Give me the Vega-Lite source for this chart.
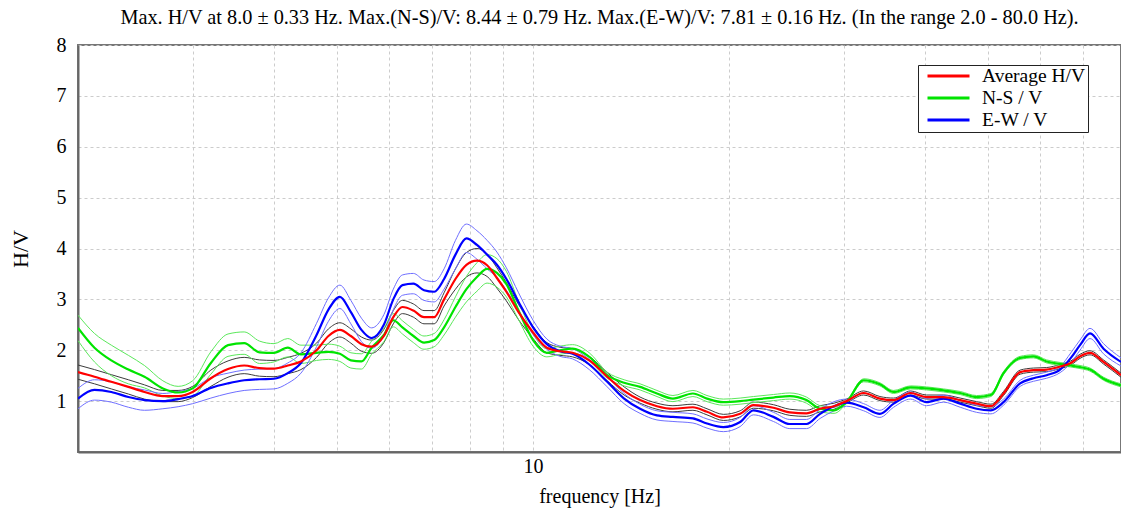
{
 "$schema": "https://vega.github.io/schema/vega-lite/v6.json",
 "width": 1043, "height": 407,
 "autosize": {"type": "none"},
 "padding": {"left": 78, "top": 45, "right": 0, "bottom": 58},
 "background": "white",
 "config": {"view": {"stroke": "#777", "strokeWidth": 2}, "font": "Liberation Serif"},
 "title": {"text": "Max. H/V at 8.0 ± 0.33 Hz. Max.(N-S)/V: 8.44 ± 0.79 Hz. Max.(E-W)/V: 7.81 ± 0.16 Hz. (In the range 2.0 - 80.0 Hz).", "font": "Liberation Serif", "fontSize": 20.3, "fontWeight": "normal", "color": "black", "anchor": "middle", "offset": 7},
 "data": {"values": [
  {"f":2.0,"Average H/V":1.57,"N-S / V":2.44,"E-W / V":1.05,"aH":1.71,"aL":1.43,"nH":2.69,"nL":2.19,"eH":1.25,"eL":0.85},
  {"f":2.12,"Average H/V":1.48,"N-S / V":2.05,"E-W / V":1.22,"aH":1.62,"aL":1.34,"nH":2.33,"nL":1.77,"eH":1.42,"eL":1.02},
  {"f":2.25,"Average H/V":1.38,"N-S / V":1.80,"E-W / V":1.18,"aH":1.52,"aL":1.24,"nH":2.10,"nL":1.50,"eH":1.38,"eL":0.98},
  {"f":2.39,"Average H/V":1.28,"N-S / V":1.62,"E-W / V":1.08,"aH":1.42,"aL":1.14,"nH":1.90,"nL":1.34,"eH":1.28,"eL":0.88},
  {"f":2.53,"Average H/V":1.18,"N-S / V":1.48,"E-W / V":1.02,"aH":1.32,"aL":1.04,"nH":1.70,"nL":1.26,"eH":1.22,"eL":0.82},
  {"f":2.7,"Average H/V":1.10,"N-S / V":1.25,"E-W / V":1.00,"aH":1.21,"aL":0.99,"nH":1.40,"nL":1.10,"eH":1.15,"eL":0.85},
  {"f":2.85,"Average H/V":1.10,"N-S / V":1.17,"E-W / V":1.04,"aH":1.21,"aL":0.99,"nH":1.29,"nL":1.05,"eH":1.19,"eL":0.89},
  {"f":3.0,"Average H/V":1.18,"N-S / V":1.25,"E-W / V":1.10,"aH":1.29,"aL":1.07,"nH":1.40,"nL":1.10,"eH":1.25,"eL":0.95},
  {"f":3.2,"Average H/V":1.45,"N-S / V":1.75,"E-W / V":1.26,"aH":1.61,"aL":1.29,"nH":1.97,"nL":1.53,"eH":1.46,"eL":1.06},
  {"f":3.4,"Average H/V":1.63,"N-S / V":2.10,"E-W / V":1.35,"aH":1.79,"aL":1.47,"nH":2.32,"nL":1.88,"eH":1.55,"eL":1.15},
  {"f":3.6,"Average H/V":1.70,"N-S / V":2.14,"E-W / V":1.41,"aH":1.86,"aL":1.54,"nH":2.36,"nL":1.92,"eH":1.61,"eL":1.21},
  {"f":3.8,"Average H/V":1.65,"N-S / V":1.96,"E-W / V":1.43,"aH":1.81,"aL":1.49,"nH":2.18,"nL":1.74,"eH":1.63,"eL":1.23},
  {"f":4.0,"Average H/V":1.64,"N-S / V":1.95,"E-W / V":1.44,"aH":1.80,"aL":1.48,"nH":2.13,"nL":1.77,"eH":1.64,"eL":1.24},
  {"f":4.2,"Average H/V":1.70,"N-S / V":2.05,"E-W / V":1.55,"aH":1.86,"aL":1.54,"nH":2.23,"nL":1.87,"eH":1.75,"eL":1.35},
  {"f":4.4,"Average H/V":1.78,"N-S / V":1.92,"E-W / V":1.75,"aH":1.94,"aL":1.62,"nH":2.10,"nL":1.74,"eH":1.95,"eL":1.55},
  {"f":4.65,"Average H/V":2.00,"N-S / V":1.95,"E-W / V":2.30,"aH":2.14,"aL":1.86,"nH":2.10,"nL":1.80,"eH":2.53,"eL":2.07},
  {"f":4.85,"Average H/V":2.28,"N-S / V":1.97,"E-W / V":2.80,"aH":2.42,"aL":2.14,"nH":2.12,"nL":1.82,"eH":3.03,"eL":2.57},
  {"f":5.05,"Average H/V":2.40,"N-S / V":1.93,"E-W / V":3.05,"aH":2.54,"aL":2.26,"nH":2.08,"nL":1.78,"eH":3.28,"eL":2.82},
  {"f":5.25,"Average H/V":2.28,"N-S / V":1.80,"E-W / V":2.75,"aH":2.42,"aL":2.14,"nH":1.95,"nL":1.65,"eH":2.98,"eL":2.52},
  {"f":5.45,"Average H/V":2.12,"N-S / V":1.78,"E-W / V":2.40,"aH":2.26,"aL":1.98,"nH":1.93,"nL":1.63,"eH":2.63,"eL":2.17},
  {"f":5.65,"Average H/V":2.07,"N-S / V":2.05,"E-W / V":2.24,"aH":2.20,"aL":1.94,"nH":2.18,"nL":1.92,"eH":2.44,"eL":2.04},
  {"f":5.9,"Average H/V":2.28,"N-S / V":2.30,"E-W / V":2.50,"aH":2.41,"aL":2.15,"nH":2.43,"nL":2.17,"eH":2.70,"eL":2.30},
  {"f":6.1,"Average H/V":2.65,"N-S / V":2.59,"E-W / V":3.00,"aH":2.78,"aL":2.52,"nH":2.72,"nL":2.46,"eH":3.20,"eL":2.80},
  {"f":6.3,"Average H/V":2.85,"N-S / V":2.45,"E-W / V":3.28,"aH":2.98,"aL":2.72,"nH":2.58,"nL":2.32,"eH":3.48,"eL":3.08},
  {"f":6.55,"Average H/V":2.78,"N-S / V":2.28,"E-W / V":3.31,"aH":2.91,"aL":2.65,"nH":2.41,"nL":2.15,"eH":3.51,"eL":3.11},
  {"f":6.8,"Average H/V":2.65,"N-S / V":2.15,"E-W / V":3.18,"aH":2.78,"aL":2.52,"nH":2.28,"nL":2.02,"eH":3.38,"eL":2.98},
  {"f":7.05,"Average H/V":2.65,"N-S / V":2.20,"E-W / V":3.15,"aH":2.78,"aL":2.52,"nH":2.33,"nL":2.07,"eH":3.35,"eL":2.95},
  {"f":7.3,"Average H/V":3.00,"N-S / V":2.45,"E-W / V":3.40,"aH":3.13,"aL":2.87,"nH":2.60,"nL":2.30,"eH":3.60,"eL":3.20},
  {"f":7.6,"Average H/V":3.40,"N-S / V":2.85,"E-W / V":3.88,"aH":3.60,"aL":3.20,"nH":3.05,"nL":2.65,"eH":4.16,"eL":3.60},
  {"f":7.9,"Average H/V":3.68,"N-S / V":3.20,"E-W / V":4.20,"aH":3.92,"aL":3.44,"nH":3.45,"nL":2.95,"eH":4.48,"eL":3.92},
  {"f":8.2,"Average H/V":3.76,"N-S / V":3.44,"E-W / V":4.07,"aH":4.00,"aL":3.52,"nH":3.72,"nL":3.16,"eH":4.35,"eL":3.79},
  {"f":8.5,"Average H/V":3.67,"N-S / V":3.60,"E-W / V":3.88,"aH":3.89,"aL":3.45,"nH":3.88,"nL":3.32,"eH":4.16,"eL":3.60},
  {"f":8.8,"Average H/V":3.42,"N-S / V":3.52,"E-W / V":3.68,"aH":3.62,"aL":3.22,"nH":3.80,"nL":3.24,"eH":3.93,"eL":3.43},
  {"f":9.1,"Average H/V":3.15,"N-S / V":3.30,"E-W / V":3.40,"aH":3.33,"aL":2.97,"nH":3.55,"nL":3.05,"eH":3.62,"eL":3.18},
  {"f":9.5,"Average H/V":2.75,"N-S / V":2.78,"E-W / V":2.95,"aH":2.90,"aL":2.60,"nH":2.96,"nL":2.60,"eH":3.13,"eL":2.77},
  {"f":10.0,"Average H/V":2.35,"N-S / V":2.20,"E-W / V":2.45,"aH":2.47,"aL":2.23,"nH":2.32,"nL":2.08,"eH":2.59,"eL":2.31},
  {"f":10.5,"Average H/V":2.05,"N-S / V":1.95,"E-W / V":2.12,"aH":2.15,"aL":1.95,"nH":2.03,"nL":1.87,"eH":2.22,"eL":2.02},
  {"f":11.0,"Average H/V":1.98,"N-S / V":2.00,"E-W / V":1.98,"aH":2.06,"aL":1.90,"nH":2.08,"nL":1.92,"eH":2.08,"eL":1.88},
  {"f":11.5,"Average H/V":1.95,"N-S / V":2.03,"E-W / V":1.93,"aH":2.03,"aL":1.87,"nH":2.11,"nL":1.95,"eH":2.03,"eL":1.83},
  {"f":12.2,"Average H/V":1.80,"N-S / V":1.87,"E-W / V":1.72,"aH":1.88,"aL":1.72,"nH":1.95,"nL":1.79,"eH":1.82,"eL":1.62},
  {"f":13.0,"Average H/V":1.48,"N-S / V":1.51,"E-W / V":1.38,"aH":1.56,"aL":1.40,"nH":1.57,"nL":1.45,"eH":1.48,"eL":1.28},
  {"f":13.8,"Average H/V":1.20,"N-S / V":1.36,"E-W / V":1.05,"aH":1.28,"aL":1.12,"nH":1.42,"nL":1.30,"eH":1.15,"eL":0.95},
  {"f":14.6,"Average H/V":1.02,"N-S / V":1.28,"E-W / V":0.85,"aH":1.08,"aL":0.96,"nH":1.34,"nL":1.22,"eH":0.94,"eL":0.76},
  {"f":15.5,"Average H/V":0.90,"N-S / V":1.15,"E-W / V":0.72,"aH":0.96,"aL":0.84,"nH":1.21,"nL":1.09,"eH":0.81,"eL":0.63},
  {"f":16.4,"Average H/V":0.85,"N-S / V":1.05,"E-W / V":0.69,"aH":0.91,"aL":0.79,"nH":1.11,"nL":0.99,"eH":0.78,"eL":0.60},
  {"f":17.6,"Average H/V":0.88,"N-S / V":1.15,"E-W / V":0.66,"aH":0.94,"aL":0.82,"nH":1.21,"nL":1.09,"eH":0.75,"eL":0.57},
  {"f":18.5,"Average H/V":0.79,"N-S / V":1.05,"E-W / V":0.56,"aH":0.85,"aL":0.73,"nH":1.11,"nL":0.99,"eH":0.65,"eL":0.47},
  {"f":19.6,"Average H/V":0.68,"N-S / V":0.98,"E-W / V":0.49,"aH":0.74,"aL":0.62,"nH":1.04,"nL":0.92,"eH":0.58,"eL":0.40},
  {"f":20.8,"Average H/V":0.75,"N-S / V":1.00,"E-W / V":0.59,"aH":0.81,"aL":0.69,"nH":1.06,"nL":0.94,"eH":0.68,"eL":0.50},
  {"f":21.8,"Average H/V":0.92,"N-S / V":1.03,"E-W / V":0.82,"aH":0.98,"aL":0.86,"nH":1.09,"nL":0.97,"eH":0.91,"eL":0.73},
  {"f":23.4,"Average H/V":0.87,"N-S / V":1.07,"E-W / V":0.69,"aH":0.93,"aL":0.81,"nH":1.13,"nL":1.01,"eH":0.78,"eL":0.60},
  {"f":24.8,"Average H/V":0.78,"N-S / V":1.10,"E-W / V":0.55,"aH":0.84,"aL":0.72,"nH":1.16,"nL":1.04,"eH":0.64,"eL":0.46},
  {"f":26.3,"Average H/V":0.76,"N-S / V":1.02,"E-W / V":0.55,"aH":0.82,"aL":0.70,"nH":1.08,"nL":0.96,"eH":0.64,"eL":0.46},
  {"f":27.6,"Average H/V":0.85,"N-S / V":0.85,"E-W / V":0.75,"aH":0.91,"aL":0.79,"nH":0.91,"nL":0.79,"eH":0.84,"eL":0.66},
  {"f":29.0,"Average H/V":0.90,"N-S / V":0.82,"E-W / V":0.90,"aH":0.96,"aL":0.84,"nH":0.88,"nL":0.76,"eH":0.99,"eL":0.81},
  {"f":30.3,"Average H/V":1.00,"N-S / V":0.98,"E-W / V":0.97,"aH":1.04,"aL":0.96,"nH":1.01,"nL":0.95,"eH":1.04,"eL":0.90},
  {"f":32.2,"Average H/V":1.16,"N-S / V":1.41,"E-W / V":0.88,"aH":1.20,"aL":1.12,"nH":1.44,"nL":1.38,"eH":0.95,"eL":0.81},
  {"f":34.1,"Average H/V":1.05,"N-S / V":1.33,"E-W / V":0.75,"aH":1.09,"aL":1.01,"nH":1.36,"nL":1.30,"eH":0.82,"eL":0.68},
  {"f":35.8,"Average H/V":1.02,"N-S / V":1.18,"E-W / V":0.95,"aH":1.06,"aL":0.98,"nH":1.21,"nL":1.15,"eH":1.02,"eL":0.88},
  {"f":38.0,"Average H/V":1.16,"N-S / V":1.27,"E-W / V":1.11,"aH":1.20,"aL":1.12,"nH":1.30,"nL":1.24,"eH":1.18,"eL":1.04},
  {"f":40.2,"Average H/V":1.08,"N-S / V":1.25,"E-W / V":0.98,"aH":1.12,"aL":1.04,"nH":1.28,"nL":1.22,"eH":1.05,"eL":0.91},
  {"f":42.7,"Average H/V":1.08,"N-S / V":1.21,"E-W / V":1.05,"aH":1.12,"aL":1.04,"nH":1.24,"nL":1.18,"eH":1.12,"eL":0.98},
  {"f":45.3,"Average H/V":1.02,"N-S / V":1.16,"E-W / V":0.95,"aH":1.06,"aL":0.98,"nH":1.19,"nL":1.13,"eH":1.02,"eL":0.88},
  {"f":48.0,"Average H/V":0.95,"N-S / V":1.08,"E-W / V":0.85,"aH":0.99,"aL":0.91,"nH":1.11,"nL":1.05,"eH":0.92,"eL":0.78},
  {"f":50.5,"Average H/V":0.90,"N-S / V":1.12,"E-W / V":0.82,"aH":0.94,"aL":0.86,"nH":1.15,"nL":1.09,"eH":0.89,"eL":0.75},
  {"f":52.8,"Average H/V":1.15,"N-S / V":1.55,"E-W / V":0.98,"aH":1.19,"aL":1.11,"nH":1.58,"nL":1.52,"eH":1.04,"eL":0.92},
  {"f":56.0,"Average H/V":1.57,"N-S / V":1.85,"E-W / V":1.35,"aH":1.61,"aL":1.53,"nH":1.88,"nL":1.82,"eH":1.41,"eL":1.29},
  {"f":58.7,"Average H/V":1.61,"N-S / V":1.88,"E-W / V":1.45,"aH":1.65,"aL":1.57,"nH":1.91,"nL":1.85,"eH":1.51,"eL":1.39},
  {"f":61.5,"Average H/V":1.62,"N-S / V":1.78,"E-W / V":1.51,"aH":1.66,"aL":1.58,"nH":1.81,"nL":1.75,"eH":1.57,"eL":1.45},
  {"f":64.5,"Average H/V":1.68,"N-S / V":1.73,"E-W / V":1.62,"aH":1.72,"aL":1.64,"nH":1.76,"nL":1.70,"eH":1.68,"eL":1.56},
  {"f":67.0,"Average H/V":1.75,"N-S / V":1.70,"E-W / V":1.85,"aH":1.79,"aL":1.71,"nH":1.73,"nL":1.67,"eH":1.95,"eL":1.75},
  {"f":69.2,"Average H/V":1.88,"N-S / V":1.67,"E-W / V":2.10,"aH":1.92,"aL":1.84,"nH":1.70,"nL":1.64,"eH":2.20,"eL":2.00},
  {"f":71.7,"Average H/V":1.95,"N-S / V":1.62,"E-W / V":2.33,"aH":1.99,"aL":1.91,"nH":1.65,"nL":1.59,"eH":2.43,"eL":2.23},
  {"f":75.2,"Average H/V":1.77,"N-S / V":1.44,"E-W / V":2.03,"aH":1.81,"aL":1.73,"nH":1.47,"nL":1.41,"eH":2.13,"eL":1.93},
  {"f":80.0,"Average H/V":1.51,"N-S / V":1.31,"E-W / V":1.77,"aH":1.55,"aL":1.47,"nH":1.34,"nL":1.28,"eH":1.85,"eL":1.69}
 ]},
 "encoding": {
  "x": {"field": "f", "type": "quantitative",
   "scale": {"type": "log", "domain": [2, 80], "nice": false},
   "axis": {"values": [3,4,5,6,7,8,9,10,20,30,40,50,60,70], "labelExpr": "datum.value == 10 ? '10' : ''",
    "ticks": false, "grid": true, "gridDash": [3,3], "gridColor": "#cccccc", "gridWidth": 1,
    "domainColor": "#666", "domainWidth": 2, "labelFont": "Liberation Serif", "labelFontSize": 20, "labelColor": "black",
    "labelPadding": 4, "labelFlush": false, "labelOverlap": false,
    "title": "frequency [Hz]", "titleFont": "Liberation Serif", "titleFontSize": 20, "titleFontWeight": "normal", "titleColor": "black", "titlePadding": 10}},
  "y": {"field": "v", "type": "quantitative",
   "scale": {"domain": [0, 8], "nice": false, "zero": false},
   "axis": {"values": [1,2,3,4,5,6,7,8], "ticks": false, "grid": true, "gridDash": [3,3], "gridColor": "#cccccc", "gridWidth": 1,
    "domainColor": "#666", "domainWidth": 2, "labelFont": "Liberation Serif", "labelFontSize": 20, "labelColor": "black",
    "labelPadding": 12, "labelFlush": false,
    "title": "H/V", "titleFont": "Liberation Serif", "titleFontSize": 22, "titleFontWeight": "normal", "titleColor": "black", "titlePadding": 24}}
 },
 "layer": [
  {"transform": [{"fold": ["aH","aL","nH","nL","eH","eL"], "as": ["band","v"]}],
   "mark": {"type": "line", "strokeWidth": 1, "interpolate": "monotone", "clip": true},
   "encoding": {
    "detail": {"field": "band"},
    "stroke": {"field": "band", "type": "nominal", "legend": null,
     "scale": {"domain": ["aH","aL","nH","nL","eH","eL"], "range": ["#3c3c3c","#3c3c3c","#5be85b","#5be85b","#6f6fff","#6f6fff"]}}}},
  {"transform": [{"fold": ["N-S / V","E-W / V","Average H/V"], "as": ["series","v"]}],
   "mark": {"type": "line", "strokeWidth": 2.2, "interpolate": "monotone", "clip": true},
   "encoding": {
    "color": {"field": "series", "type": "nominal",
     "scale": {"domain": ["Average H/V","N-S / V","E-W / V"], "range": ["#ff0000","#00e400","#0000ff"]},
     "legend": {"title": null, "orient": "none", "legendX": 840, "legendY": 20, "direction": "vertical",
      "strokeColor": "#222", "fillColor": "white", "padding": 2, "symbolOffset": 6,
      "symbolType": "stroke", "symbolSize": 1764, "symbolStrokeWidth": 3, "clipHeight": 18,
      "labelFont": "Liberation Serif", "labelFontSize": 19.5, "labelColor": "black", "labelOffset": 11, "rowPadding": 2,
      "labelExpr": "datum.label + '\u00a0\u00a0\u00a0\u00a0'"}}}}
 ]
}
